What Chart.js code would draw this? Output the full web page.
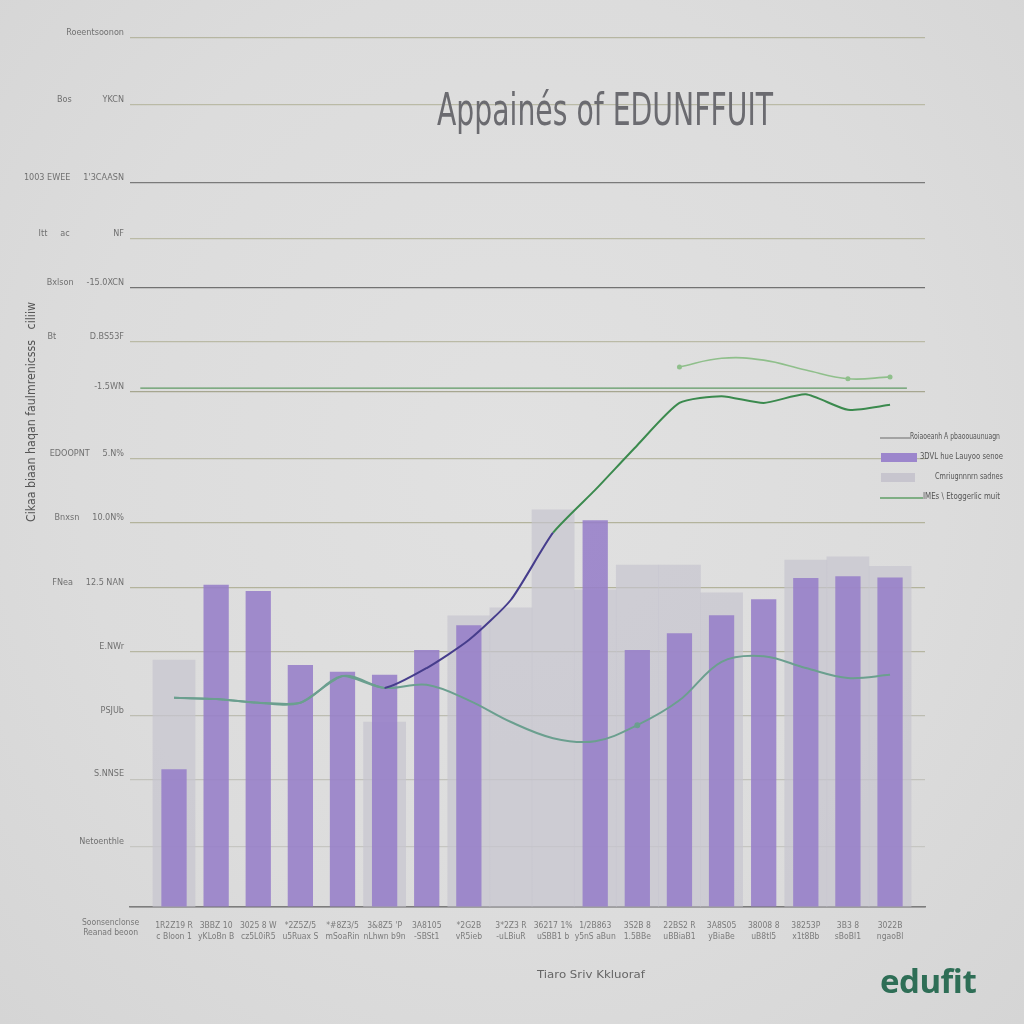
<!DOCTYPE html>
<html>
<head>
<meta charset="utf-8">
<script src="https://cdn.jsdelivr.net/npm/chart.js@4.4.1/dist/chart.umd.min.js"></script>
<style>
  html, body { margin: 0; padding: 0; background: #dcdcdc; }
  #wrap {
    position: relative; width: 1024px; height: 1024px; overflow: hidden;
    background: radial-gradient(ellipse at 50% 45%, #e1e1e1 0%, #dcdcdc 60%, #d5d5d5 100%);
  }
  #chart { position: absolute; left: 0; top: 0; }
  .txt { position: absolute; white-space: nowrap; font-family: "Liberation Sans Narrow", "DejaVu Sans Condensed", sans-serif; }
  #title { left: 605px; top: 84px; font-size: 44px; color: #6b6b70; transform-origin: 0 0; }
  #ytitle { left: 24px; top: 522px; font-size: 12px; color: #555; transform-origin: 0 0; }
  #xtitle { left: 537px; top: 968px; font-size: 11px; color: #666; transform-origin: 0 0; }
  #xcat { left: 82px; top: 917px; font-size: 8.5px; color: #777; line-height: 10px; text-align: center; }
  #logo { left: 880px; top: 958px; font-family: "Open Sans", sans-serif; font-weight: 700; font-size: 33px; color: #2e6e56; letter-spacing: -0.5px; }
  #legend { position: absolute; left: 878px; top: 428px; width: 126px; }
  .item { position: relative; height: 20px; }
  .item .key { position: absolute; }
  .item .lab { position: absolute; top: 4px; font-size: 8px; color: #555; white-space: nowrap; transform-origin: 0 0;
    font-family: "Liberation Sans Narrow", "DejaVu Sans Condensed", sans-serif; }
</style>
</head>
<body>
<div id="wrap">
  <canvas id="chart" width="1024" height="1024"></canvas>
  <div class="txt" id="title">Appainés of EDUNFFUIT</div>
  <div class="txt" id="ytitle">Cikaa biaan haqan faulmrenicsss&nbsp;&nbsp;&nbsp;ciliiw</div>
  <div class="txt" id="xtitle">Tiaro Sriv Kkluoraf</div>
  <div class="txt" id="xcat">Soonsenclonse<br>Reanad beoon</div>
  <div class="txt" id="logo">edufit</div>
  <div id="legend"></div>
</div>
<script>
// categories (two-line tick labels)
const categories = [
  ['1R2Z19 R', 'c Bloon 1'], ['3BBZ 10', 'yKLoBn B'], ['3025 8 W', 'cz5L0iR5'],
  ['*2Z5Z/5', 'u5Ruax S'], ['*#8Z3/5', 'mSoaRin'], ['3&8Z5 \'P', 'nLhwn b9n'],
  ['3A8105', '-SBSt1'], ['*2G2B', 'vR5ieb'], ['3*2Z3 R', '-uLBiuR'],
  ['36217 1%', 'uSBB1 b'], ['1/2B863', 'y5nS aBun'], ['3S2B 8', '1.5BBe'],
  ['22BS2 R', 'uBBiaB1'], ['3A8S05', 'yBiaBe'], ['38008 8', 'uB8tl5'],
  ['38253P', 'x1t8Bb'], ['3B3 8', 'sBoBl1'], ['3022B', 'ngaoBl']
];

// y ticks (values sit on the reference's uneven gridlines)
const yTickValues = [0, 9.7, 20.6, 30.9, 41.2, 51.5, 62, 72.3, 83.1, 91.1, 99.8, 107.7, 116.7, 129.3, 140];
const yTickLabels = ['', 'Netoenthle', 'S.NNSE', 'PSJUb', 'E.NWr', 'FNea     12.5 NAN',
  'Bnxsn     10.0N%', 'EDOOPNT     5.N%', '-1.5WN', 'Bt             D.BS53F',
  'Bxlson     -15.0XCN', 'Itt     ac                 NF', '1003 EWEE     1\'3CAASN',
  'Bos            YKCN', 'Roeentsoonon'];

// series
const purpleValues = [22.2, 51.9, 50.9, 39.0, 37.9, 37.4, 41.4, 45.4, null, null, 62.3, 41.4, 44.1, 47.0, 49.6, 53.0, 53.3, 53.1];
const grayValues   = [39.8, null, null, null, null, 29.8, null, 46.9, 48.2, 64.0, 51.1, 55.1, 55.1, 50.6, null, 55.9, 56.4, 54.9];
const riseValues   = [33.7, 33.5, 32.9, 32.9, 37.2, 35.3, 38.5, 43.0, 49.5, 60.3, 67.2, 74.4, 81.2, 82.3, 81.2, 82.6, 80.1, 80.9];
const waveValues   = [33.7, 33.5, 32.9, 32.9, 37.2, 35.3, 35.8, 33.3, 29.8, 27.2, 26.7, 29.3, 33.3, 39.5, 40.4, 38.5, 36.9, 37.4];
const upperValues  = [null, null, null, null, null, null, null, null, null, null, null, null, 87.0, 88.4, 88.1, 86.5, 85.1, 85.4];
const targetSpan   = [-0.8, 17.4];
const targetLevel  = 83.6;

const seriesLabels = ['Roiaoeanh A pbaoouaunuagn', '3DVL hue Lauyoo senoe', 'Cmriugnnnrn sadnes', 'IMEs \\ Etoggerlic muit'];

const pts = arr => arr.map((v, i) => ({ x: i, y: v }));

const gridColors = ['#858585', '#c6c6c2', '#c2c2bc', '#bdbdb2', '#b6b6a2', '#b3b39c', '#b3b39c',
  '#b8b8a4', '#a6a690', '#babaa6', '#727272', '#babaa6', '#7a7a7a', '#babaa6', '#b6b6a2'];

const teal = '#6b9f8f', navy = '#463d8c', green = '#3b8a4e';

const datasets = [
  {
    type: 'line', label: seriesLabels[0], order: 0,
    data: targetSpan.map(x => ({ x: x, y: targetLevel })),
    borderColor: '#5f9a64', borderWidth: 1.1, pointRadius: 0,
    legendColor: '#a3a3a3', legendKind: 'line', keyW: 30, labX: 32, labW: 90
  },
  {
    type: 'line', label: 'rise', order: 0,
    data: pts(riseValues), borderWidth: 2, pointRadius: 0, tension: 0.2, borderColor: green,
    segment: { borderColor: ctx => ctx.p0DataIndex < 5 ? teal : (ctx.p0DataIndex < 9 ? navy : green) }
  },
  {
    type: 'line', label: seriesLabels[3], order: 0,
    data: pts(waveValues), borderColor: teal, borderWidth: 2, tension: 0.35,
    pointRadius: waveValues.map((v, i) => (i === 11 ? 2 : 0)), pointBackgroundColor: teal,
    legendColor: '#7fae84', legendKind: 'line', keyW: 43, labX: 45, labW: 77
  },
  {
    type: 'line', label: 'upper', order: 0,
    data: pts(upperValues), borderColor: '#8fbf8b', borderWidth: 1.6, tension: 0.4,
    pointRadius: upperValues.map((v, i) => (i === 12 || i === 16 || i === 17 ? 2.5 : 0)),
    pointBackgroundColor: '#8fbf8b', pointBorderWidth: 0
  },
  {
    type: 'bar', label: seriesLabels[1], order: 1, grouped: false,
    data: pts(purpleValues), backgroundColor: 'rgba(150,126,200,0.88)',
    barPercentage: 0.6, categoryPercentage: 1,
    legendColor: '#9c86cc', legendKind: 'box', keyW: 36, labX: 42, labW: 83
  },
  {
    type: 'bar', label: seriesLabels[2], order: 2, grouped: false,
    data: pts(grayValues), backgroundColor: 'rgba(198,196,206,0.7)',
    barPercentage: 1, categoryPercentage: 1,
    legendColor: '#c7c5ce', legendKind: 'box', keyW: 34, labX: 57, labW: 68
  }
];

const chart = new Chart(document.getElementById('chart'), {
  type: 'bar',
  data: { datasets: datasets },
  options: {
    responsive: false,
    animation: false,
    devicePixelRatio: 1,
    layout: { padding: { top: 38, right: 99, bottom: 77, left: 0 } },
    plugins: { legend: { display: false }, tooltip: { enabled: false } },
    scales: {
      x: {
        type: 'linear', min: -1.045, max: 17.83, offset: false,
        afterBuildTicks: s => { s.ticks = categories.map((c, i) => ({ value: i })); },
        afterFit: s => { s.height = 40; },
        grid: { display: false },
        border: { display: true, color: '#7d7d7d', width: 1.5 },
        ticks: {
          autoSkip: false, maxRotation: 0, padding: 6, color: '#7b7b7b',
          font: { family: 'Liberation Sans Narrow, DejaVu Sans Condensed, sans-serif', size: 8.5 },
          callback: (v, i) => categories[i]
        }
      },
      y: {
        min: 0, max: 140,
        afterBuildTicks: s => { s.ticks = yTickValues.map(v => ({ value: v })); },
        afterFit: s => { s.width = 130; },
        border: { display: false },
        grid: { drawTicks: false, lineWidth: 1.2, color: ctx => gridColors[ctx.index] || '#bbb' },
        ticks: {
          padding: 6, labelOffset: -5, color: '#707070',
          font: { family: 'Liberation Sans Narrow, DejaVu Sans Condensed, sans-serif', size: 9 },
          callback: (v, i) => yTickLabels[i]
        }
      }
    }
  }
});

// legend built from the datasets
const legend = document.getElementById('legend');
[0, 4, 5, 2].forEach(k => {
  const ds = datasets[k];
  const item = document.createElement('div');
  item.className = 'item';
  const key = document.createElement('div');
  key.className = 'key';
  if (ds.legendKind === 'box') {
    key.style.cssText = 'left:3px;top:5px;height:9px;width:' + ds.keyW + 'px;background:' + ds.legendColor;
  } else {
    key.style.cssText = 'left:2px;top:9px;height:1.5px;width:' + ds.keyW + 'px;background:' + ds.legendColor;
  }
  const lab = document.createElement('div');
  lab.className = 'lab';
  lab.textContent = ds.label;
  lab.style.left = ds.labX + 'px';
  item.appendChild(key);
  item.appendChild(lab);
  legend.appendChild(item);
  const w = lab.getBoundingClientRect().width;
  lab.style.transform = 'scaleX(' + (ds.labW / w) + ')';
});

// fit overlay texts to the widths seen in the reference
function fit(id, width, rotate, center) {
  const el = document.getElementById(id);
  const w = el.getBoundingClientRect().width;
  const sx = width / w;
  let t = '';
  if (center) t += 'translateX(' + (-width / 2) + 'px) ';
  if (rotate) t += 'rotate(-90deg) ';
  t += 'scaleX(' + sx + ')';
  el.style.transform = t;
}
fit('title', 336, false, true);
fit('ytitle', 220, true, false);
fit('xtitle', 108, false, false);
</script>
</body>
</html>
